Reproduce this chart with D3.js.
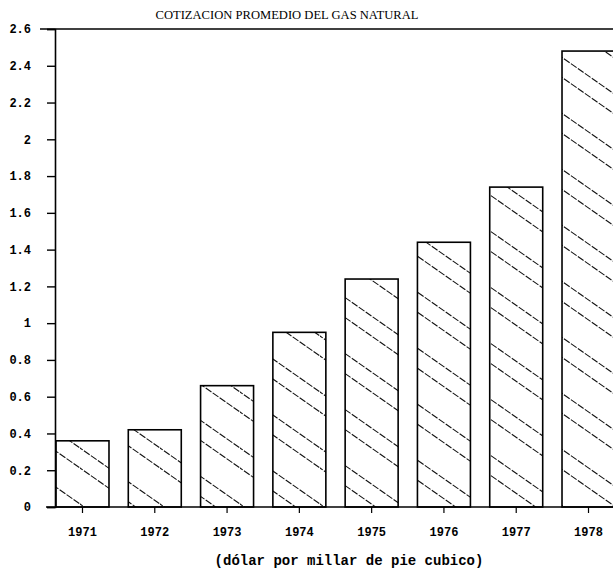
<!DOCTYPE html>
<html>
<head>
<meta charset="utf-8">
<script src="https://cdn.jsdelivr.net/npm/d3@7"></script>
<style>
  html, body { margin: 0; padding: 0; background: #fff; }
  svg { display: block; }
</style>
</head>
<body>
<div id="chart"></div>
<script>
// Data
const years = ["1971", "1972", "1973", "1974", "1975", "1976", "1977", "1978"];
const prices = [0.36, 0.42, 0.66, 0.95, 1.24, 1.44, 1.74, 2.48];
const yTicks = [0, 0.2, 0.4, 0.6, 0.8, 1, 1.2, 1.4, 1.6, 1.8, 2, 2.2, 2.4, 2.6];

const title = "COTIZACION PROMEDIO DEL GAS NATURAL";
const unitLabel = "(dólar por millar de pie cubico)";

const width = 613,
  height = 573;
const margin = { top: 29, right: 0, bottom: 66, left: 56 };

const svg = d3
  .select("#chart")
  .append("svg")
  .attr("width", width)
  .attr("height", height);

// hatch: pairs of diagonal strokes, repeating every 56px vertically
const hatchH = 56,
  slope = 0.7,
  hatchW = hatchH / slope;
const pattern = svg
  .append("defs")
  .append("pattern")
  .attr("id", "hatch")
  .attr("patternUnits", "userSpaceOnUse")
  .attr("width", hatchW)
  .attr("height", hatchH);
[-1, 0, 1].forEach((k) => {
  [0, 20].forEach((off) => {
    const y0 = k * hatchH + off;
    pattern
      .append("line")
      .attr("x1", -10)
      .attr("y1", y0 - 10 * slope)
      .attr("x2", hatchW + 10)
      .attr("y2", y0 + (hatchW + 10) * slope)
      .attr("stroke", "#111")
      .attr("stroke-width", 1.1)
      .attr("stroke-dasharray", "7 1.5");
  });
});

// bars run on past the right edge, as in the print
const x = d3
  .scaleBand()
  .domain(years)
  .range([margin.left, 615])
  .paddingInner(0.267)
  .paddingOuter(0);

const y = d3
  .scaleLinear()
  .domain([0, 2.6])
  .range([height - margin.bottom, margin.top]);

const font = "'Liberation Mono', 'DejaVu Sans Mono', monospace";

// Title
svg
  .append("text")
  .attr("x", 287)
  .attr("y", 19)
  .attr("text-anchor", "middle")
  .attr("font-family", "'Liberation Serif', 'DejaVu Serif', serif")
  .attr("font-size", 12)
  .attr("textLength", 263)
  .attr("lengthAdjust", "spacingAndGlyphs")
  .text(title);

// Bars
svg
  .selectAll(".bar")
  .data(prices)
  .enter()
  .append("rect")
  .attr("class", "bar")
  .attr("x", (d, i) => x(years[i]))
  .attr("y", (d) => y(d))
  .attr("width", x.bandwidth())
  .attr("height", (d) => y(0) - y(d))
  .attr("fill", "url(#hatch)")
  .attr("stroke", "#000")
  .attr("stroke-width", 1.6);

// Y axis
const yAxis = svg
  .append("g")
  .attr("transform", `translate(${margin.left - 1},0)`)
  .call(
    d3
      .axisLeft(y)
      .tickValues(yTicks)
      .tickSize(8)
      .tickPadding(16)
      .tickFormat((d) => d3.format("")(+d.toFixed(1)))
  );
yAxis.select(".domain").attr("stroke-width", 1.6);
yAxis.selectAll(".tick line").attr("stroke-width", 1.4);
yAxis
  .selectAll("text")
  .attr("font-family", font)
  .attr("font-weight", "bold")
  .attr("font-size", 12)
  .attr("fill", "#000");

// top frame line at 2.6
svg
  .append("line")
  .attr("x1", 40)
  .attr("x2", width)
  .attr("y1", y(2.6))
  .attr("y2", y(2.6))
  .attr("stroke", "#000")
  .attr("stroke-width", 1.6);

// X axis
const xAxis = svg
  .append("g")
  .attr("transform", `translate(0,${y(0)})`)
  .call(d3.axisBottom(x).tickSize(6).tickPadding(14).tickSizeOuter(0));
xAxis
  .select(".domain")
  .attr("d", `M46,0H${width}`)
  .attr("stroke-width", 1.6);
xAxis.selectAll(".tick line").attr("stroke-width", 1.2);
xAxis
  .selectAll("text")
  .attr("font-family", font)
  .attr("font-weight", "bold")
  .attr("font-size", 12)
  .attr("fill", "#000");

// unit label
svg
  .append("text")
  .attr("x", 349)
  .attr("y", 565)
  .attr("text-anchor", "middle")
  .attr("font-family", font)
  .attr("font-weight", "bold")
  .attr("font-size", 14)
  .text(unitLabel);
</script>
</body>
</html>
